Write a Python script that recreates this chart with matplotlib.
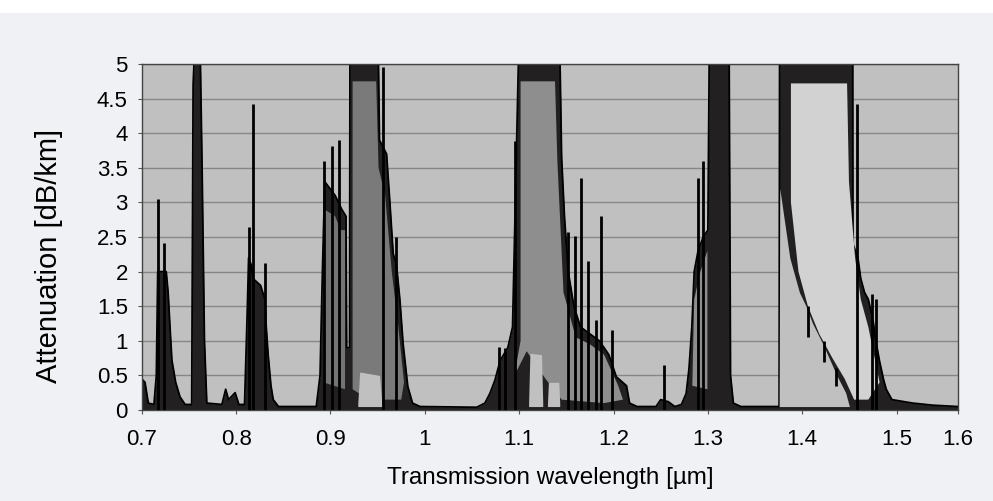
import matplotlib
matplotlib.use("Agg")
import matplotlib.pyplot as plt
from matplotlib.patches import Rectangle

# upper envelope of the absorption spectrum (wavelength in um, attenuation in dB/km)
env_wl = [0.700, 0.7035, 0.707, 0.713, 0.7155, 0.717, 0.726, 0.728, 0.730, 0.732, 0.736, 0.7406, 0.746,
          0.753, 0.7545, 0.756, 0.762, 0.764, 0.7665, 0.769,
          0.785, 0.789, 0.792, 0.799, 0.803,
          0.809, 0.812, 0.8133, 0.816, 0.818, 0.826, 0.8306, 0.832, 0.834, 0.837, 0.8394, 0.845,
          0.885, 0.889, 0.8915, 0.894, 0.905, 0.912, 0.9165, 0.9172, 0.9203, 0.9207, 0.9507, 0.952,
          0.9595, 0.963, 0.9665, 0.970, 0.9737, 0.977, 0.982, 0.987, 0.995,
          1.055, 1.0637, 1.069, 1.0743, 1.080, 1.088, 1.093, 1.0995, 1.1431, 1.145, 1.148, 1.152,
          1.158, 1.165, 1.175, 1.185, 1.195, 1.203, 1.2138, 1.217, 1.225,
          1.245, 1.250, 1.258, 1.265,
          1.272, 1.277, 1.280, 1.283, 1.2855, 1.2896, 1.295, 1.300, 1.3015, 1.3225, 1.324, 1.327, 1.335,
          1.3755, 1.376, 1.4535, 1.4537, 1.459, 1.462, 1.466, 1.470, 1.475, 1.478, 1.482, 1.486,
          1.489, 1.495, 1.517, 1.538, 1.565]
env_att = [0.45, 0.40, 0.10, 0.08, 0.5, 2.0, 2.0, 1.7, 1.2, 0.72, 0.4, 0.19, 0.08,
           0.08, 4.7, 5.2, 5.2, 3.5, 1.0, 0.1,
           0.08, 0.3, 0.15, 0.25, 0.08,
           0.08, 1.5, 2.2, 2.1, 1.9, 1.8, 1.6, 1.2, 0.8, 0.35, 0.15, 0.05,
           0.05, 0.5, 2.0, 3.3, 3.1, 2.9, 2.8, 0.9, 0.9, 5.2, 5.2, 3.9,
           3.7, 3.0, 2.26, 2.1, 1.58, 0.96, 0.34, 0.1, 0.05,
           0.04, 0.1, 0.24, 0.43, 0.72, 0.9, 1.2, 5.2, 5.2, 3.65, 2.8, 2.0,
           1.5, 1.2, 1.1, 1.0, 0.8, 0.48, 0.35, 0.1, 0.05,
           0.05, 0.15, 0.12, 0.05,
           0.08, 0.24, 0.6, 1.2, 2.0, 2.3, 2.5, 2.6, 5.2, 5.2, 0.5, 0.1, 0.05,
           0.05, 5.2, 5.2, 2.4, 2.2, 1.9, 1.7, 1.6, 1.3, 1.0, 0.7, 0.45,
           0.3, 0.15, 0.1, 0.07, 0.05]

# single absorption lines
spike_wl = [0.7172, 0.7237, 0.8133, 0.8176, 0.8306, 0.8934, 0.9013, 0.909, 0.956, 0.969,
            1.0787, 1.085, 1.0955, 1.152, 1.159, 1.166, 1.173, 1.181, 1.187, 1.198,
            1.254, 1.2896, 1.295, 1.4058, 1.423, 1.436, 1.4578, 1.4735, 1.4786]
spike_lo = [0, 0, 0, 0, 0, 0, 0, 0, 0, 0,
            0, 0, 0, 0, 0, 0, 0, 0, 0, 0,
            0, 0, 0, 1.06, 0.7, 0.35, 0, 0, 0]
spike_hi = [3.05, 2.41, 2.64, 4.42, 2.12, 3.6, 3.82, 3.9, 4.95, 2.5,
            0.91, 0.9, 3.89, 2.57, 2.52, 3.35, 2.16, 1.3, 2.81, 1.15,
            0.65, 3.36, 3.6, 1.5, 1.0, 0.6, 4.42, 1.68, 1.6]

# lighter inside of the broad bands
inner_c1_wl = [0.8925, 0.8935, 0.905, 0.911, 0.9155, 0.9155]
inner_c1_att = [0.4, 2.9, 2.8, 2.6, 2.6, 0.3]
inner_c2_wl = [0.9235, 0.9235, 0.9485, 0.951, 0.958, 0.965, 0.972, 0.978, 0.975, 0.955, 0.935]
inner_c2_att = [0.3, 4.75, 4.75, 3.5, 3.1, 2.0, 1.2, 0.4, 0.15, 0.15, 0.2]
inner_d_wl = [1.1015, 1.1015, 1.138, 1.1405, 1.147, 1.16, 1.175, 1.19, 1.205, 1.21, 1.19, 1.145, 1.128, 1.108, 1.095]
inner_d_att = [1.0, 4.75, 4.75, 3.6, 1.7, 1.05, 0.95, 0.8, 0.35, 0.15, 0.1, 0.15, 0.45, 0.85, 0.5]
inner_e_wl = [1.2835, 1.2855, 1.292, 1.2995, 1.2995]
inner_e_att = [0.35, 1.6, 2.0, 2.3, 0.3]
inner_f_wl = [1.388, 1.388, 1.4475, 1.4495, 1.456, 1.462, 1.470, 1.476, 1.482, 1.470, 1.455, 1.445, 1.432, 1.418, 1.406, 1.396]
inner_f_att = [3.0, 4.72, 4.72, 3.3, 2.2, 1.6, 1.2, 0.8, 0.4, 0.15, 0.15, 0.45, 0.75, 1.1, 1.5, 2.0]

# empty gaps under the broad bands
gap_c_wl = [0.929, 0.931, 0.952, 0.9545]
gap_c_hi = [0.1, 0.55, 0.5, 0.1]
gap_d1_wl = [1.110, 1.1114, 1.1237, 1.125]
gap_d1_hi = [0.1, 0.82, 0.8, 0.1]
gap_d2_wl = [1.130, 1.131, 1.142, 1.143]
gap_d2_hi = [0.1, 0.4, 0.4, 0.1]
gap_f_wl = [1.3755, 1.3762, 1.3868, 1.397, 1.404, 1.411, 1.422, 1.4366, 1.446, 1.450]
gap_f_hi = [0.05, 3.2, 2.2, 1.7, 1.5, 1.25, 0.95, 0.5, 0.25, 0.05]

xtick_pos = [0.7, 0.8, 0.9, 1.0, 1.1, 1.2, 1.3, 1.4, 1.5, 1.565]
xtick_lab = ["0.7", "0.8", "0.9", "1", "1.1", "1.2", "1.3", "1.4", "1.5", "1.6"]
ytick_pos = [0, 0.5, 1, 1.5, 2, 2.5, 3, 3.5, 4, 4.5, 5]
ytick_lab = ["0", "0.5", "1", "1.5", "2", "2.5", "3", "3.5", "4", "4.5", "5"]

bg = "#c0c0c0"
dark = "#222020"

plt.rcParams["font.family"] = "Liberation Sans"

fig = plt.figure(figsize=(9.93, 5.01), dpi=100, facecolor="#eff1f5")
fig.patches.append(Rectangle((0, 1 - 12 / 501), 1, 12 / 501, transform=fig.transFigure,
                             color="white", zorder=0))
ax = fig.add_axes([0.1427, 0.1816, 0.8220, 0.6906])
ax.set_facecolor(bg)

for y in ytick_pos[1:]:
    ax.axhline(y, color="#878787", lw=1, zorder=0.5)

ax.fill_between(env_wl, 0, env_att, color=dark, lw=0, zorder=2)
ax.plot(env_wl, env_att, color="black", lw=1.3, zorder=2.5)

ax.fill(inner_c1_wl, inner_c1_att, color="#747474", lw=0, zorder=3)
ax.fill(inner_c2_wl, inner_c2_att, color="#7a7a7a", lw=0, zorder=3)
ax.fill(inner_d_wl, inner_d_att, color="#8e8e8e", lw=0, zorder=3)
ax.fill(inner_e_wl, inner_e_att, color="#8e8e8e", lw=0, zorder=3)
ax.fill(inner_f_wl, inner_f_att, color="#d2d2d2", lw=0, zorder=3)

for gw, gh in [(gap_c_wl, gap_c_hi), (gap_d1_wl, gap_d1_hi), (gap_d2_wl, gap_d2_hi), (gap_f_wl, gap_f_hi)]:
    ax.fill_between(gw, 0.05, gh, color=bg, lw=0, zorder=3.5)

ax.vlines(spike_wl, spike_lo, spike_hi, color="black", lw=2, zorder=4)

ax.set_xlim(0.7, 1.565)
ax.set_ylim(0, 5)
ax.set_xticks(xtick_pos)
ax.set_xticklabels(xtick_lab, fontsize=16)
ax.set_yticks(ytick_pos)
ax.set_yticklabels(ytick_lab, fontsize=16)
ax.tick_params(axis="x", length=3, pad=11, color="#555555")
ax.tick_params(axis="y", length=3, pad=7, color="#555555")
for s in ax.spines.values():
    s.set_color("#444444")
    s.set_linewidth(1)

ax.set_xlabel("Transmission wavelength [\u00b5m]", fontsize=17.5, labelpad=12)
ax.set_ylabel("Attenuation [dB/km]", fontsize=21)
ax.yaxis.set_label_coords(-0.096, 0.445)

fig.savefig("out.png", dpi=100, facecolor=fig.get_facecolor())
